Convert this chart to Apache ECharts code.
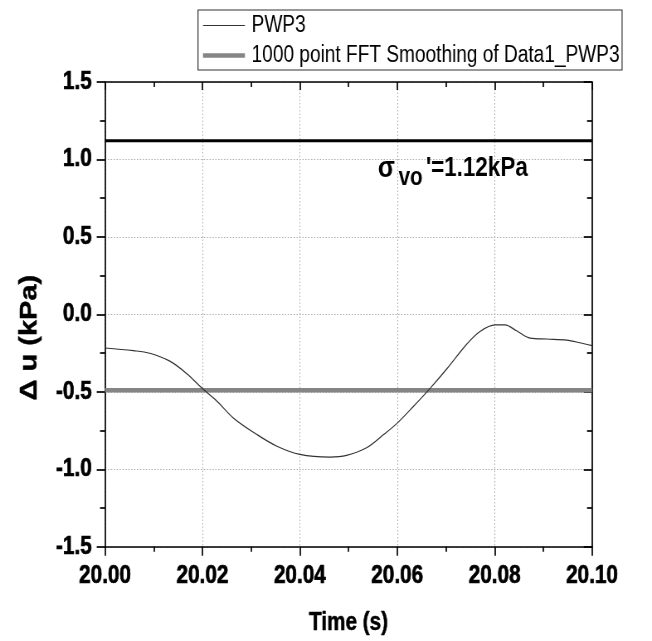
<!DOCTYPE html>
<html>
<head>
<meta charset="utf-8">
<script src="https://cdn.jsdelivr.net/npm/echarts@6/dist/echarts.min.js"></script>
<style>
html,body{margin:0;padding:0;background:#fff;overflow:hidden;}
#wrap{width:652px;height:641px;overflow:hidden;position:relative;}
#c{width:786px;height:641px;transform:scaleX(0.8295);transform-origin:0 0;}
</style>
</head>
<body>
<div id="wrap"><div id="c"></div></div>
<script>
var time = [20.000, 20.0058, 20.0092, 20.0133, 20.0168, 20.020, 20.0231, 20.0264, 20.0312, 20.0353, 20.040, 20.0462, 20.0496, 20.0537, 20.0572, 20.060, 20.0633, 20.0667, 20.0702, 20.0743, 20.077, 20.0801, 20.0821, 20.0845, 20.0873, 20.0907, 20.0948, 20.0975, 20.100];
var pwp3 = [-0.217, -0.234, -0.251, -0.302, -0.383, -0.479, -0.564, -0.670, -0.776, -0.851, -0.904, -0.921, -0.910, -0.861, -0.776, -0.702, -0.595, -0.479, -0.351, -0.191, -0.110, -0.068, -0.068, -0.106, -0.153, -0.159, -0.166, -0.183, -0.202];
var fftTime = [20.00, 20.10];
var fftValues = [-0.49, -0.49];
var sigmaTime = [20.00, 20.10];
var sigmaValues = [1.12, 1.12];
var seriesNames = ['PWP3', '1000 point FFT Smoothing of Data1_PWP3'];
var xLabel = 'Time (s)';
var yLabel = '\u0394 u (kPa)';

function zip(a, b) { return a.map(function (v, i) { return [v, b[i]]; }); }

var FONT = "'Liberation Sans', Arial, sans-serif";
var chart = echarts.init(document.getElementById('c'), null, {renderer: 'canvas'});
var tickLabel = {fontFamily: FONT, fontWeight: 'bold', fontSize: 25, color: '#000', textBorderColor: '#000', textBorderWidth: 0.7};
var gridSplit = {show: true, lineStyle: {type: [1.5, 2], color: '#aaa', width: 1}};
var axisLine = {show: true, onZero: false, lineStyle: {color: '#000', width: 1.7}};
var tickStyle = {color: '#000', width: 1.7};

var option = {
  backgroundColor: '#fff',
  animation: false,
  grid: {left: 126.6, right: 72.3, top: 82, bottom: 89, containLabel: false},
  legend: {
    orient: 'vertical', left: 238.7, top: 10,
    data: [
      {name: seriesNames[0], icon: 'path://M0 0H50V1.2H0Z'},
      {name: seriesNames[1], icon: 'path://M0 0H50V4.5H0Z'}
    ],
    itemWidth: 50.6, itemHeight: 14, itemGap: 7,
    padding: [4, 3, 3, 6],
    borderColor: '#333', borderWidth: 1.2,
    textStyle: {fontFamily: FONT, fontSize: 23, color: '#000', padding: [0, 0, 0, 3]}
  },
  xAxis: [{
    type: 'value', min: 20.00, max: 20.10, interval: 0.02, position: 'bottom',
    axisLine: axisLine,
    axisTick: {show: true, inside: false, length: 9, lineStyle: tickStyle},
    minorTick: {show: true, splitNumber: 2, length: 5, lineStyle: tickStyle},
    axisLabel: Object.assign({margin: 17, formatter: function (v) { return v.toFixed(2); }}, tickLabel),
    splitLine: gridSplit,
    name: xLabel, nameLocation: 'middle', nameGap: 64,
    nameTextStyle: {fontFamily: FONT, fontWeight: 'bold', fontSize: 25, color: '#000', textBorderColor: '#000', textBorderWidth: 0.5}
  }, {
    type: 'value', min: 20.00, max: 20.10, interval: 0.02, position: 'top',
    axisLine: axisLine,
    axisTick: {show: true, inside: true, length: 8, lineStyle: tickStyle},
    minorTick: {show: true, splitNumber: 2, length: 5, lineStyle: tickStyle},
    axisLabel: {show: false}, splitLine: {show: false}
  }],
  yAxis: [{
    type: 'value', min: -1.5, max: 1.5, interval: 0.5, position: 'left',
    axisLine: axisLine,
    axisTick: {show: true, inside: false, length: 10, lineStyle: tickStyle},
    minorTick: {show: true, splitNumber: 2, length: 6, lineStyle: tickStyle},
    axisLabel: Object.assign({margin: 16, formatter: function (v) { return v.toFixed(1); }}, tickLabel),
    splitLine: gridSplit
  }, {
    type: 'value', min: -1.5, max: 1.5, interval: 0.5, position: 'right',
    axisLine: axisLine,
    axisTick: {show: true, inside: true, length: 10, lineStyle: tickStyle},
    minorTick: {show: true, splitNumber: 2, length: 6, lineStyle: tickStyle},
    axisLabel: {show: false}, splitLine: {show: false}
  }],
  series: [{
    name: seriesNames[0], type: 'line', data: zip(time, pwp3),
    symbol: 'none', smooth: 0.35,
    lineStyle: {color: '#333', width: 1.2}, itemStyle: {color: '#333'}, z: 4
  }, {
    name: seriesNames[1], type: 'line', data: zip(fftTime, fftValues),
    symbol: 'none',
    lineStyle: {color: '#858585', width: 4.5}, itemStyle: {color: '#858585'}, z: 3
  }, {
    name: 'sigma', type: 'line', data: zip(sigmaTime, sigmaValues),
    symbol: 'none',
    lineStyle: {color: '#000', width: 3}, itemStyle: {color: '#000'}, z: 3
  }]
};
chart.setOption(option);

var anchor = chart.convertToPixel({gridIndex: 0}, [20.056, 0.94]);
var yNameAnchor = chart.convertToPixel({gridIndex: 0}, [20.00, -0.15]);
chart.setOption({
  graphic: [{
    type: 'group', x: anchor[0], y: anchor[1],
    children: [
      {type: 'text', x: 0, y: 0, style: {text: '\u03c3', fontFamily: FONT, fontWeight: 'bold', fontSize: 30, fill: '#000', textVerticalAlign: 'middle'}},
      {type: 'text', x: 25, y: 9, style: {text: 'vo', fontFamily: FONT, fontWeight: 'bold', fontSize: 25, fill: '#000', textVerticalAlign: 'middle'}},
      {type: 'text', x: 58, y: 0, style: {text: "'=1.12kPa", fontFamily: FONT, fontWeight: 'bold', fontSize: 27, fill: '#000', textVerticalAlign: 'middle'}}
    ]
  }, {
    type: 'text', x: yNameAnchor[0] - 90.4, y: yNameAnchor[1], rotation: Math.PI / 2,
    style: {text: yLabel, fontFamily: FONT, fontWeight: 'bold', fontSize: 29, fill: '#000', stroke: '#000', lineWidth: 0.5,
      textAlign: 'center', textVerticalAlign: 'middle'}
  }]
});
</script>
</body>
</html>
